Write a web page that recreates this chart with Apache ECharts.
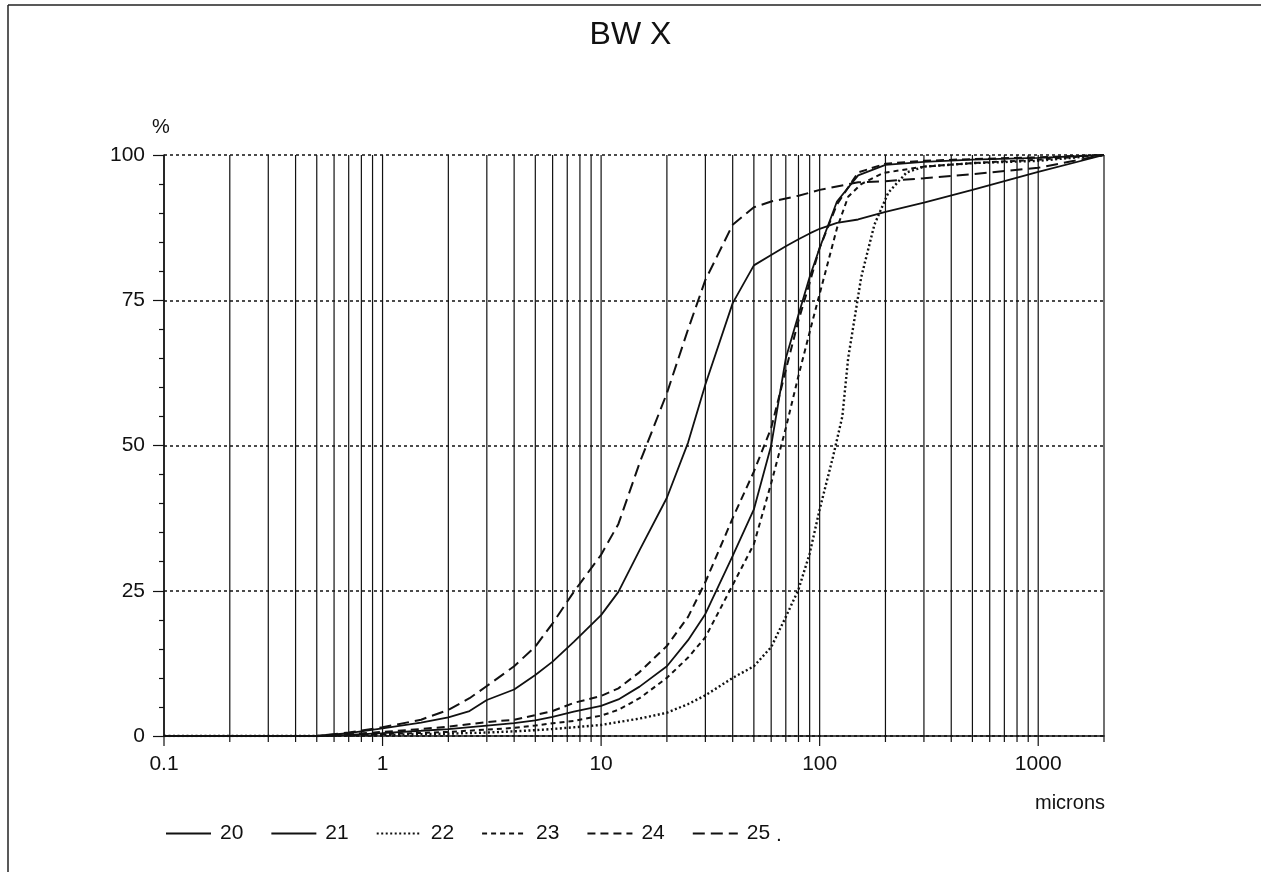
<!DOCTYPE html>
<html><head><meta charset="utf-8">
<script src="https://cdn.jsdelivr.net/npm/echarts@6/dist/echarts.min.js"></script>
<style>html,body{margin:0;padding:0;background:#fff}#c{width:1261px;height:884px}</style>
</head><body><div id="c"></div>
<script>
// ---- data (particle size in microns, cumulative %) ----
const seriesNames = ['20', '21', '22', '23', '24', '25'];

const d20 = [[0.1,0],[0.5,0],[0.7,0.5],[1,1.3],[1.5,2.3],[2,3.2],[2.5,4.3],[3,6.2],[4,8.0],[5,10.5],[6,12.8],[7.5,16.2],[10,20.8],[12,24.8],[15,32],[20,41],[25,50.5],[30,60.5],[40,74.5],[50,81],[60,82.8],[70,84.3],[80,85.5],[90,86.5],[100,87.3],[120,88.3],[150,88.9],[200,90.2],[300,91.8],[500,94],[1000,97.1],[2000,100]];
const d21 = [[0.1,0],[0.5,0],[0.7,0.2],[1,0.5],[1.5,0.9],[2,1.2],[3,1.8],[4,2.2],[5,2.7],[6,3.3],[7.5,4.2],[10,5.2],[12,6.3],[15,8.5],[20,12],[25,16.5],[30,21],[40,31],[50,39],[60,50],[70,65],[80,72.5],[90,79],[100,84],[120,92],[150,96.5],[200,98.3],[300,98.8],[500,99.2],[1000,99.5],[2000,100]];
const d22 = [[0.1,0],[0.5,0],[0.7,0.1],[1,0.2],[2,0.4],[3,0.6],[4,0.8],[5,1],[6,1.2],[7.5,1.5],[10,1.9],[12,2.4],[15,3.0],[20,4.0],[25,5.5],[30,7],[40,10],[50,12],[60,15.3],[70,20.5],[80,25.2],[90,31.4],[100,39],[115,48],[127,55],[135,65],[155,79],[178,88],[206,93.5],[250,97],[300,98],[500,98.6],[1000,99],[2000,100]];
const d23 = [[0.1,0],[0.5,0],[0.7,0.1],[1,0.3],[2,0.7],[3,1.1],[4,1.4],[5,1.8],[6,2.2],[7.5,2.6],[10,3.5],[12,4.5],[15,6.5],[20,10],[25,13.5],[30,17],[40,26],[50,33],[60,43.5],[70,53],[80,62],[93,71.6],[106,79.7],[120,87.4],[135,92.8],[155,95],[195,96.9],[300,98],[500,98.6],[1000,99.2],[2000,100]];
const d24 = [[0.1,0],[0.5,0],[0.7,0.3],[1,0.7],[1.5,1.2],[2,1.6],[3,2.4],[4,2.8],[5,3.6],[6,4.3],[7.5,5.7],[10,6.9],[12,8.2],[15,11],[20,15.5],[25,20.5],[30,26.5],[40,37.5],[50,45.5],[60,53],[70,63],[80,71.5],[90,78],[100,84],[120,91.5],[150,97],[200,98.5],[300,99],[500,99.3],[1000,99.6],[2000,100]];
const d25 = [[0.1,0],[0.5,0],[0.7,0.6],[1,1.5],[1.5,2.8],[2,4.5],[2.5,6.5],[3,8.6],[4,12],[5,15.4],[6,19.4],[7.5,24.8],[10,31.2],[12,36.5],[15,47],[20,59],[25,70],[30,78.5],[40,88],[50,91],[60,92],[70,92.5],[80,93],[90,93.5],[100,94],[150,95.3],[200,95.5],[300,96],[500,96.7],[1000,97.8],[2000,100]];

// vertical grid lines (log cycles) and the right frame line
const gridValues = [0.1,0.2,0.3,0.4,0.5,0.6,0.7,0.8,0.9,1,2,3,4,5,6,7,8,9,10,20,30,40,50,60,70,80,90,100,200,300,400,500,600,700,800,900,1000,2000];
const xTickLabels = ['0.1', '1', '10', '100', '1000'];
const yTicks = [0, 25, 50, 75, 100];

const seriesData = [d20, d21, d22, d23, d24, d25];
const dashTypes = ['solid', 'solid', [2, 2.5], [5, 4], [8, 5], [12, 6]];
const lineWidths = [1.8, 1.8, 2.4, 2, 2, 2];

const chart = echarts.init(document.getElementById('c'));
const FONT = 'Liberation Sans, Arial, Helvetica, sans-serif';

const lineSeries = seriesNames.map((n, i) => ({
  name: n,
  type: 'line',
  data: seriesData[i],
  symbol: 'none',
  smooth: false,
  z: 5,
  color: '#111',
  lineStyle: { color: '#111', width: lineWidths[i], type: dashTypes[i] }
}));

const gridSeries = {
  name: 'grid',
  type: 'custom',
  silent: true,
  clip: false,
  z: 1,
  data: gridValues.map(v => [v, 0]),
  encode: { x: 0, y: 1 },
  renderItem: function (params, api) {
    const v = api.value(0);
    const bot = api.coord([v, 0]);
    const top = api.coord([v, 100]);
    const lg = Math.log10(v);
    const major = Math.abs(lg - Math.round(lg)) < 1e-6;
    return {
      type: 'group',
      children: [
        { type: 'line', shape: { x1: bot[0], y1: bot[1], x2: top[0], y2: top[1] }, style: { stroke: '#111', lineWidth: 1.2 } },
        { type: 'line', shape: { x1: bot[0], y1: bot[1], x2: bot[0], y2: bot[1] + (major ? 10 : 6) }, style: { stroke: '#111', lineWidth: 1.2 } }
      ]
    };
  }
};

chart.setOption({
  animation: false,
  backgroundColor: '#fff',
  textStyle: { fontFamily: FONT },
  title: {
    text: 'BW X',
    left: 'center',
    top: 14,
    textStyle: { fontFamily: FONT, fontSize: 32, fontWeight: 'normal', color: '#111' }
  },
  grid: { left: 164, right: 157, top: 155, bottom: 148 },
  legend: {
    data: seriesNames,
    left: 160,
    top: 818,
    itemWidth: 45,
    itemHeight: 14,
    itemGap: 27,
    itemStyle: { opacity: 0 },
    textStyle: { fontFamily: FONT, fontSize: 21, color: '#111', padding: [0, 0, 0, 4] }
  },
  xAxis: {
    type: 'log',
    logBase: 10,
    min: 0.1,
    max: 2000,
    axisLine: { show: true, onZero: false, lineStyle: { color: '#111', width: 1.5 } },
    axisTick: { show: false },
    splitLine: { show: false },
    axisLabel: {
      margin: 18,
      fontSize: 21,
      color: '#111',
      fontFamily: FONT,
      showMaxLabel: false,
      formatter: function (v) {
        const lg = Math.log10(v);
        if (Math.abs(lg - Math.round(lg)) > 1e-6) return '';
        const idx = Math.round(lg) + 1;
        return xTickLabels[idx] || '';
      }
    }
  },
  yAxis: {
    type: 'value',
    min: yTicks[0],
    max: yTicks[yTicks.length - 1],
    interval: 25,
    axisLine: { show: true, lineStyle: { color: '#111', width: 1.5 } },
    axisTick: { show: true, length: 11, lineStyle: { color: '#111', width: 1.2 } },
    minorTick: { show: true, splitNumber: 5, length: 5, lineStyle: { color: '#111', width: 1.2 } },
    splitLine: { show: true, lineStyle: { color: '#111', width: 1.5, type: [3, 3] } },
    axisLabel: { margin: 19, fontSize: 21, color: '#111', fontFamily: FONT }
  },
  graphic: [
    { type: 'text', left: 152, top: 117, style: { text: '%', font: '20px ' + FONT, fill: '#111' } },
    { type: 'text', right: 156, top: 793, style: { text: 'microns', font: '20px ' + FONT, fill: '#111' } },
    { type: 'text', left: 776, top: 825, style: { text: '.', font: '21px ' + FONT, fill: '#111' } },
    { type: 'line', shape: { x1: 8, y1: 5, x2: 1261, y2: 5 }, style: { stroke: '#222', lineWidth: 1.5 } },
    { type: 'line', shape: { x1: 8, y1: 5, x2: 8, y2: 872 }, style: { stroke: '#222', lineWidth: 1.5 } }
  ],
  series: [gridSeries].concat(lineSeries)
});
</script>
</body></html>
